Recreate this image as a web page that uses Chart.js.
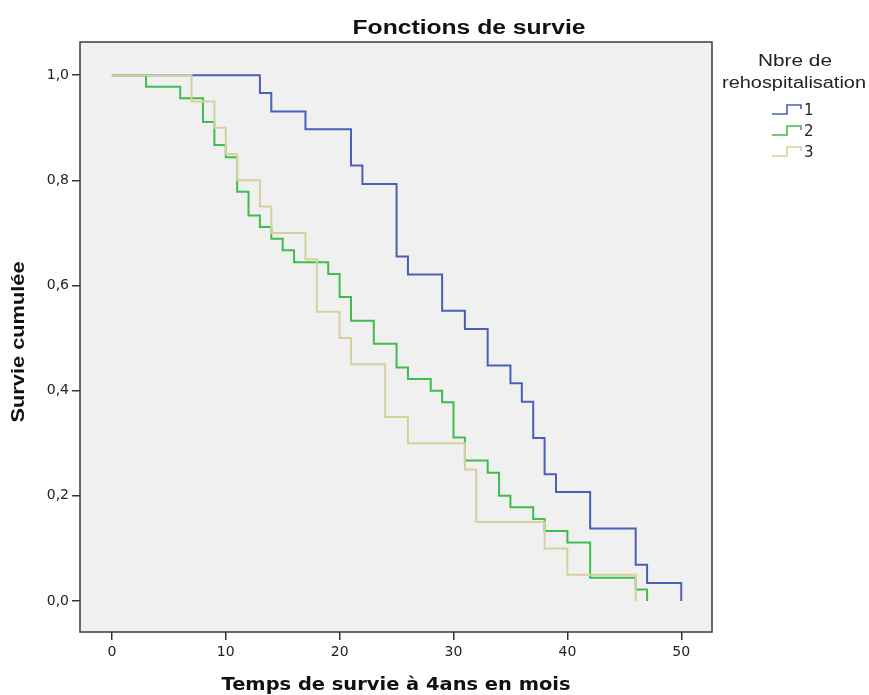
<!DOCTYPE html>
<html><head><meta charset="utf-8">
<script src="https://cdn.jsdelivr.net/npm/chart.js@4/dist/chart.umd.min.js"></script>
<style>html,body{margin:0;padding:0;background:#fff;}canvas{display:block;}</style>
</head><body>
<canvas id="c" width="869" height="695"></canvas>
<script>
// ---- data (Kaplan-Meier steps) ----
const groupLabels = ['1', '2', '3'];
const timesG1 = [0, 13, 14, 17, 21, 22, 25, 26, 29, 31, 33, 35, 36, 37, 38, 39, 42, 46, 47, 50];
const survG1  = [1, 0.966, 0.931, 0.897, 0.828, 0.793, 0.655, 0.621, 0.552, 0.517, 0.448, 0.414, 0.379, 0.310, 0.241, 0.207, 0.138, 0.069, 0.034, 0];
const timesG2 = [0, 3, 6, 8, 9, 10, 11, 12, 13, 14, 15, 16, 19, 20, 21, 23, 25, 26, 28, 29, 30, 31, 33, 34, 35, 37, 38, 40, 42, 46, 47];
const survG2  = [1, 0.978, 0.956, 0.911, 0.867, 0.844, 0.778, 0.733, 0.711, 0.689, 0.667, 0.644, 0.622, 0.578, 0.533, 0.489, 0.444, 0.422, 0.400, 0.378, 0.311, 0.267, 0.244, 0.200, 0.178, 0.156, 0.133, 0.111, 0.044, 0.022, 0];
const timesG3 = [0, 7, 9, 10, 11, 13, 14, 17, 18, 20, 21, 24, 26, 31, 32, 38, 40, 46];
const survG3  = [1, 0.95, 0.90, 0.85, 0.80, 0.75, 0.70, 0.65, 0.55, 0.50, 0.45, 0.35, 0.30, 0.25, 0.15, 0.10, 0.05, 0];
const xTickValues = [0, 10, 20, 30, 40, 50];
const yTickValues = [0, 0.2, 0.4, 0.6, 0.8, 1.0];
const chartTitle = 'Fonctions de survie';
const xTitle = 'Temps de survie à 4ans en mois';
const yTitle = 'Survie cumulée';
const legendTitle = ['Nbre de', 'rehospitalisation'];

const colors = ['#4a60b6', '#3fbc50', '#d6d19c'];
const toPts = (t, s) => t.map((v, i) => ({x: v, y: s[i]}));
const series = [[timesG1, survG1], [timesG2, survG2], [timesG3, survG3]];

function fitText(ctx, text, cx, cy, font, w, color, rot) {
  ctx.save();
  ctx.font = font;
  ctx.fillStyle = color;
  ctx.textAlign = 'center';
  ctx.textBaseline = 'middle';
  const m = ctx.measureText(text).width;
  const s = w ? w / m : 1;
  ctx.translate(cx, cy);
  if (rot) ctx.rotate(rot);
  ctx.scale(s, 1);
  ctx.fillText(text, 0, 0);
  ctx.restore();
}

const decor = {
  id: 'decor',
  beforeDraw(chart) {
    const {ctx, chartArea: a} = chart;
    ctx.save();
    ctx.fillStyle = '#f0f0f0';
    ctx.fillRect(a.left, a.top, a.right - a.left, a.bottom - a.top);
    ctx.restore();
  },
  afterDraw(chart) {
    const {ctx, chartArea: a} = chart;
    ctx.save();
    ctx.strokeStyle = '#3a3a3a';
    ctx.lineWidth = 1.5;
    ctx.strokeRect(a.left, a.top, a.right - a.left, a.bottom - a.top);
    ctx.restore();
    fitText(ctx, chartTitle, 469, 28, 'bold 20px "Liberation Sans"', 233, '#111');
    fitText(ctx, xTitle, 396, 685, 'bold 18px "DejaVu Sans"', 349, '#111');
    fitText(ctx, yTitle, 19, 342, 'bold 19px "Liberation Sans"', 161, '#111', -Math.PI / 2);
    fitText(ctx, legendTitle[0], 795, 62, '16px "Liberation Sans"', 74, '#222');
    fitText(ctx, legendTitle[1], 794, 84, '16px "Liberation Sans"', 144, '#222');
    const ys = [110, 131, 152];
    chart.data.datasets.forEach((ds, i) => {
      const y = ys[i];
      ctx.save();
      ctx.strokeStyle = ds.borderColor;
      ctx.lineWidth = 1.6;
      ctx.beginPath();
      ctx.moveTo(772, y + 4);
      ctx.lineTo(787, y + 4);
      ctx.lineTo(787, y - 5);
      ctx.lineTo(801, y - 5);
      ctx.lineTo(801, y - 1);
      ctx.stroke();
      ctx.restore();
      ctx.save();
      ctx.font = '15px "DejaVu Sans"';
      ctx.fillStyle = '#222';
      ctx.textBaseline = 'middle';
      ctx.fillText(ds.label, 804, y + 1);
      ctx.restore();
    });
  }
};

new Chart(document.getElementById('c'), {
  type: 'line',
  data: {
    datasets: series.map((s, i) => ({
      label: groupLabels[i],
      data: toPts(s[0], s[1]),
      borderColor: colors[i],
      backgroundColor: colors[i],
      borderWidth: 2,
      pointRadius: 0,
      stepped: 'before',
      fill: false,
      order: 2 - i
    }))
  },
  options: {
    responsive: false,
    devicePixelRatio: 1,
    animation: false,
    layout: {padding: {left: 0, top: 42, right: 157, bottom: 0}},
    plugins: {legend: {display: false}, tooltip: {enabled: false}, title: {display: false}},
    scales: {
      x: {
        type: 'linear', min: -2.8, max: 52.7,
        afterBuildTicks: sc => { sc.ticks = xTickValues.map(v => ({value: v})); },
        afterFit: sc => { sc.height = 63; },
        grid: {drawOnChartArea: false, drawTicks: true, tickLength: 8, color: '#333', lineWidth: 1.5},
        border: {display: false},
        ticks: {color: '#222', font: {family: 'DejaVu Sans', size: 14}, padding: 4,
                callback: v => String(v)}
      },
      y: {
        type: 'linear', min: -0.059, max: 1.063,
        afterBuildTicks: sc => { sc.ticks = yTickValues.map(v => ({value: v})); },
        afterFit: sc => { sc.width = 80; },
        grid: {drawOnChartArea: false, drawTicks: true, tickLength: 8, color: '#333', lineWidth: 1.5},
        border: {display: false},
        ticks: {color: '#222', font: {family: 'DejaVu Sans', size: 14}, padding: 3,
                callback: v => v.toFixed(1).replace('.', ',')}
      }
    }
  },
  plugins: [decor]
});
</script>
</body></html>
